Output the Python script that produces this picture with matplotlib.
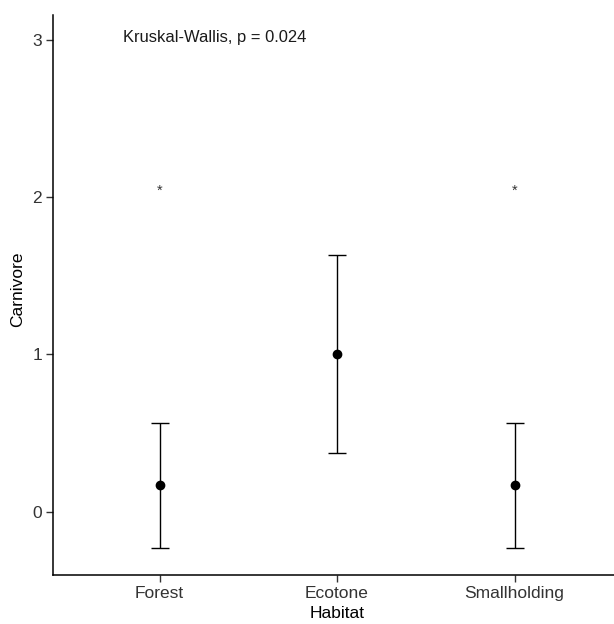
import numpy as np
import matplotlib.pyplot as plt

plt.rcParams['font.family'] = ['Liberation Sans', 'DejaVu Sans']

# Data
habitats = ['Forest', 'Ecotone', 'Smallholding']
mean_carnivore = [0.167, 1.0, 0.167]
err_carnivore = [0.40, 0.63, 0.40]
sig_labels = ['*', '', '*']
sig_y = [2.04, 2.04, 2.04]
test_label = 'Kruskal-Wallis, p = 0.024'

W, H = 614, 624
fig = plt.figure(figsize=(W / 100, H / 100), dpi=100)
ax = fig.add_axes([53 / W, 1 - 574.5 / H, 1 - 53 / W, (574.5 - 15) / H])

x = np.arange(1, len(habitats) + 1)
ax.errorbar(x, mean_carnivore, yerr=err_carnivore, fmt='o', color='black',
            ecolor='black', elinewidth=1.0, capsize=6.2, capthick=1.0,
            markersize=6, zorder=3)

for xi, lab, yi in zip(x, sig_labels, sig_y):
    if lab:
        ax.text(xi, yi, lab, ha='center', va='center', fontsize=10.5, color='#333333')

ax.text(0.795, 3.02, test_label, ha='left', va='center', fontsize=11.9, color='#1a1a1a')

ax.set_xlim(0.4, 0.4 + (W - 53) / 177.5)
ax.set_ylim(-0.4, 3.16)
ax.set_xticks(x)
ax.set_xticklabels(habitats)
ax.set_yticks([0, 1, 2, 3])

ax.spines['top'].set_visible(False)
ax.spines['right'].set_visible(False)
for s in ('left', 'bottom'):
    ax.spines[s].set_linewidth(1.1)
ax.tick_params(axis='both', length=5, width=1.0, color='#333333',
               labelsize=12.5, labelcolor='#333333', pad=3)

ax.set_xlabel('Habitat', fontsize=12.5)
ax.xaxis.set_label_coords(0.506, -0.057)
ax.set_ylabel('Carnivore', fontsize=12.5)
ax.yaxis.set_label_coords(-0.05, 0.51)

fig.savefig('out.png', dpi=100, facecolor='white')
